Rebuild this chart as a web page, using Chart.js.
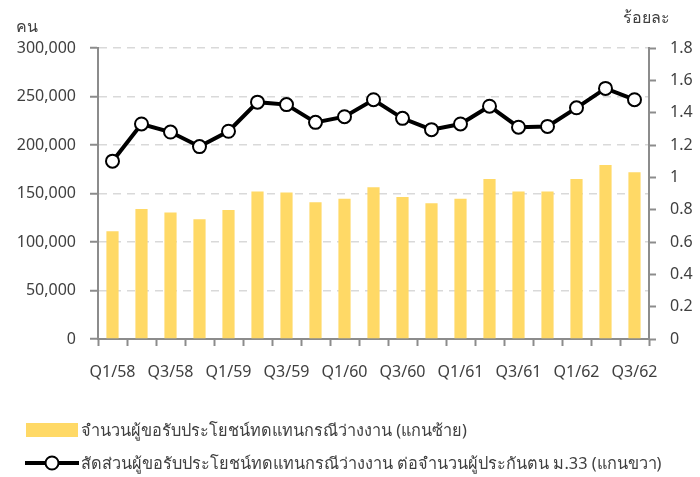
<!DOCTYPE html>
<html>
<head>
<meta charset="utf-8">
<script src="https://cdn.jsdelivr.net/npm/chart.js@4/dist/chart.umd.min.js"></script>
<style>
  html, body { margin: 0; padding: 0; background: #fff; }
  #wrap { width: 700px; height: 477px; }
</style>
</head>
<body>
<div id="wrap"><canvas id="chart" width="700" height="477"></canvas></div>
<script>
// ข้อมูลรายไตรมาส
const quarters = ['Q1/58','Q2/58','Q3/58','Q4/58','Q1/59','Q2/59','Q3/59','Q4/59',
  'Q1/60','Q2/60','Q3/60','Q4/60','Q1/61','Q2/61','Q3/61','Q4/61','Q1/62','Q2/62','Q3/62'];
const claimants = [111000,134000,130500,123500,133000,152000,151000,141000,144500,
  156500,146500,140000,144500,165000,152000,152000,165000,179500,172000];
const ratio = [1.10,1.33,1.28,1.19,1.285,1.465,1.45,1.34,1.375,
  1.48,1.365,1.295,1.33,1.44,1.31,1.315,1.43,1.55,1.48];
const barLabel = 'จำนวนผู้ขอรับประโยชน์ทดแทนกรณีว่างงาน (แกนซ้าย)';
const lineLabel = 'สัดส่วนผู้ขอรับประโยชน์ทดแทนกรณีว่างงาน ต่อจำนวนผู้ประกันตน ม.33 (แกนขวา)';

const FONT = '"Noto Sans", "Liberation Sans", sans-serif';
const TEXT = '#404040';
const AXIS = '#8c8c8c';
const BAR = '#FFD966';

Chart.defaults.font.family = FONT;
Chart.defaults.font.size = 16;
Chart.defaults.color = TEXT;

// ชื่อแกน + คำอธิบาย (วาดเอง)
const extras = {
  id: 'extras',
  afterDraw(chart) {
    const c = chart.ctx;
    c.save();
    c.font = '16px ' + FONT;
    c.fillStyle = TEXT;
    c.textBaseline = 'middle';
    c.textAlign = 'left';
    c.fillText('คน', 16, 27);
    c.fillText('ร้อยละ', 623, 18);

    c.font = '16.3px ' + FONT;
    // legend แท่ง
    c.fillStyle = BAR;
    c.fillRect(26, 423, 52, 14);
    c.fillStyle = TEXT;
    c.fillText(barLabel, 81, 431);

    // legend เส้น
    c.strokeStyle = '#000';
    c.lineWidth = 4;
    c.beginPath();
    c.moveTo(25, 463);
    c.lineTo(79, 463);
    c.stroke();
    c.beginPath();
    c.arc(52, 463, 6.5, 0, Math.PI * 2);
    c.fillStyle = '#fff';
    c.fill();
    c.lineWidth = 2;
    c.stroke();
    c.fillStyle = TEXT;
    c.fillText(lineLabel, 81, 464);
    c.restore();
  }
};

new Chart(document.getElementById('chart'), {
  data: {
    labels: quarters,
    datasets: [
      {
        type: 'line',
        label: lineLabel,
        data: ratio,
        yAxisID: 'y1',
        borderColor: '#000',
        borderWidth: 4,
        pointRadius: 6.5,
        pointBorderWidth: 2,
        pointBackgroundColor: '#fff',
        pointBorderColor: '#000',
        tension: 0,
        order: 0
      },
      {
        type: 'bar',
        label: barLabel,
        data: claimants,
        yAxisID: 'y',
        backgroundColor: BAR,
        barPercentage: 0.42,
        categoryPercentage: 1,
        order: 1
      }
    ]
  },
  options: {
    responsive: false,
    animation: false,
    layout: { padding: { top: 48, bottom: 88, left: 0, right: 0 } },
    plugins: { legend: { display: false }, tooltip: { enabled: false } },
    scales: {
      x: {
        offset: true,
        grid: { offset: true, drawOnChartArea: false, drawTicks: true, tickLength: 7, tickColor: AXIS, tickWidth: 2 },
        border: { color: AXIS, width: 2 },
        ticks: {
          autoSkip: false, maxRotation: 0, padding: 17, color: TEXT,
          callback: (v, i) => i % 2 === 0 ? quarters[i] : ''
        },
        afterFit: s => { s.height = 50; }
      },
      y: {
        position: 'left',
        min: 0, max: 300000,
        ticks: { stepSize: 50000, padding: 14, color: TEXT,
          callback: v => v.toLocaleString('en-US') },
        grid: { color: '#d9d9d9', lineWidth: 1.5, tickLength: 8, tickColor: AXIS, tickWidth: 2, tickBorderDash: [] },
        border: { color: AXIS, width: 2, dash: [8, 6] },
        afterFit: s => { s.width = 98; }
      },
      y1: {
        position: 'right',
        min: 0, max: 1.8,
        ticks: { stepSize: 0.2, padding: 14, color: TEXT,
          callback: v => Math.round(v * 10) / 10 },
        grid: { drawOnChartArea: false, tickLength: 7, tickColor: AXIS, tickWidth: 2 },
        border: { color: AXIS, width: 2 },
        afterFit: s => { s.width = 51; }
      }
    }
  },
  plugins: [extras]
});
</script>
</body>
</html>
